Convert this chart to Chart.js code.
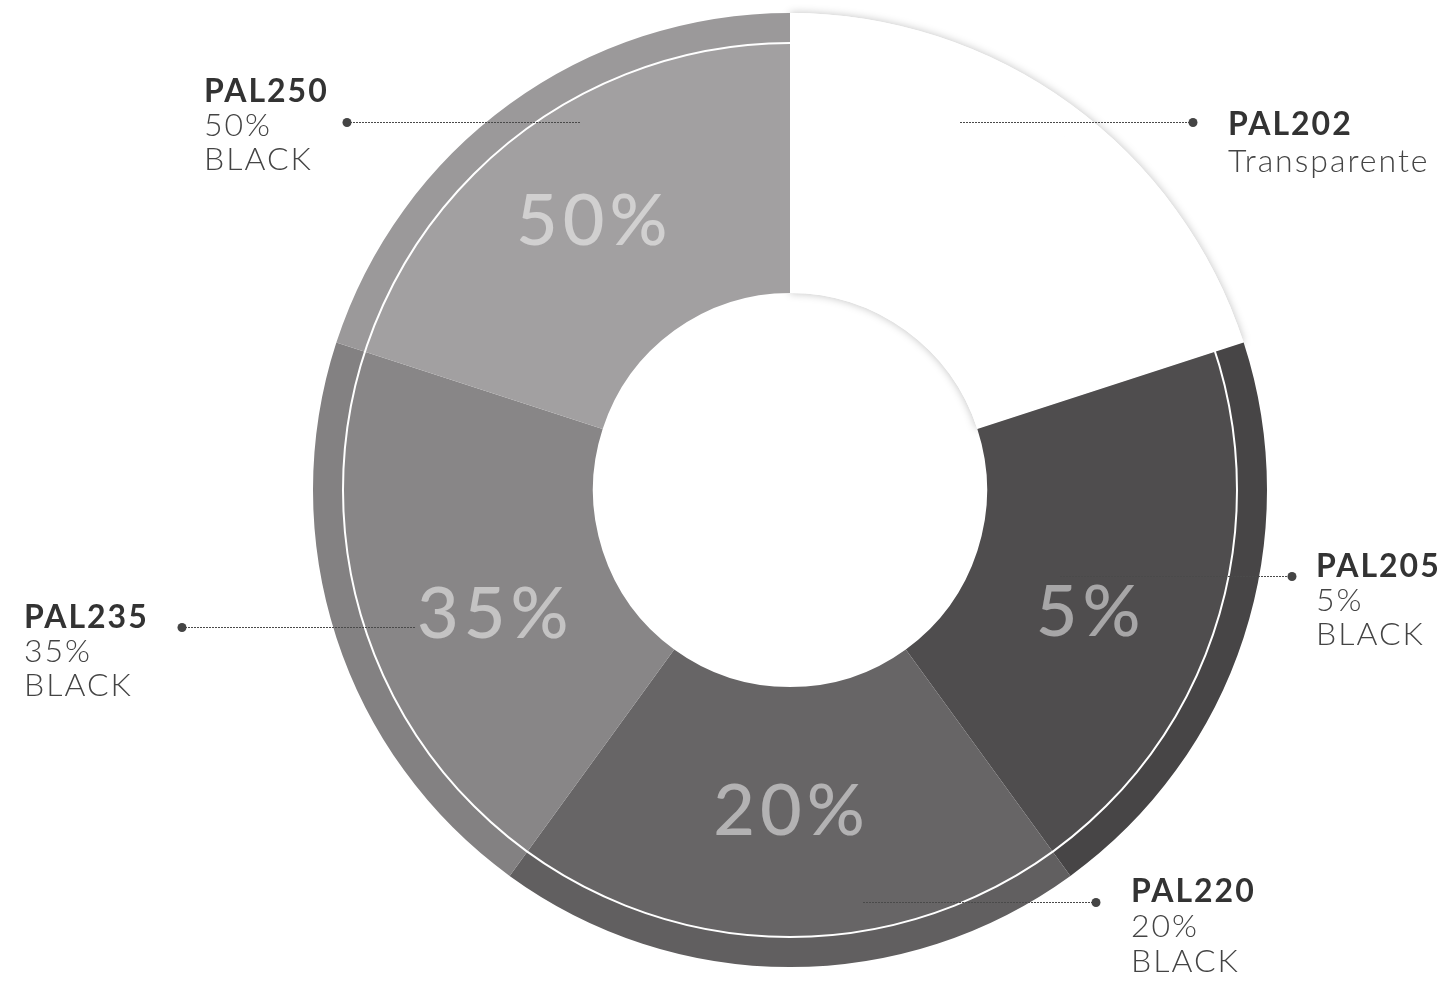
<!DOCTYPE html>
<html>
<head>
<meta charset="utf-8">
<script src="https://cdn.jsdelivr.net/npm/chart.js@4.4.1/dist/chart.umd.min.js"></script>
<style>
  html, body { margin: 0; padding: 0; background: #fff; }
  #contenedor { width: 1452px; height: 986px; }
</style>
</head>
<body>
<div id="contenedor"><canvas id="grafica"></canvas></div>
<script>
// Datos del gráfico (cinco porciones iguales, empezando arriba y en sentido horario)
const codigos = ['PAL202', 'PAL205', 'PAL220', 'PAL235', 'PAL250'];
const descripciones = [['Transparente'], ['5%', 'BLACK'], ['20%', 'BLACK'], ['35%', 'BLACK'], ['50%', 'BLACK']];
const etiquetasPorcentaje = ['', '5%', '20%', '35%', '50%'];
const valores = [1, 1, 1, 1, 1];

// Colores: anillo interior y banda exterior (un poco más oscura)
const coloresInterior = ['#ffffff', '#4f4d4e', '#676566', '#888687', '#a2a0a1'];
const coloresExterior = ['#ffffff', '#474546', '#615f60', '#838182', '#9b999a'];

// Posición de las llamadas (punto, extremo de la línea, texto)
const llamadas = [
  { punto: [1193, 122], linea: 960, texto: [1228, 135], salto: 37 },
  { punto: [1292, 576], linea: 1060, texto: [1316, 577], salto: 34 },
  { punto: [1096, 902], linea: 863, texto: [1131, 902], salto: 35 },
  { punto: [182, 627], linea: 415, texto: [24, 628], salto: 34 },
  { punto: [347, 122], linea: 580, texto: [204, 102], salto: 34 }
];
// Ajuste de los porcentajes respecto al centro angular de cada porción
const ajustePorcentaje = [[0, 0], [-8, 46], [-1, 23], [9, 48], [-9, 16]];

const FUENTE = 'Lato, "Open Sans", sans-serif';

// Sombra suave de la porción blanca
const sombraPlugin = {
  id: 'sombra',
  beforeDatasetsDraw(chart) {
    const ctx = chart.ctx;
    [0, 1].forEach(i => {
      const arco = chart.getDatasetMeta(i).data[0];
      ctx.save();
      ctx.shadowColor = 'rgba(0,0,0,0.25)';
      ctx.shadowBlur = 9;
      arco.draw(ctx);
      ctx.restore();
    });
  }
};

// Línea blanca entre banda exterior e interior, porcentajes y llamadas
const anotacionesPlugin = {
  id: 'anotaciones',
  afterDatasetsDraw(chart) {
    const ctx = chart.ctx;
    const interior = chart.getDatasetMeta(1).data;
    const cx = interior[0].x, cy = interior[0].y;
    const rLinea = interior[0].outerRadius;

    ctx.save();
    ctx.strokeStyle = '#ffffff';
    ctx.lineWidth = 2;
    ctx.beginPath();
    ctx.arc(cx, cy, rLinea, 0, Math.PI * 2);
    ctx.stroke();

    // Porcentajes dentro de las porciones
    ctx.fillStyle = 'rgba(255,255,255,0.5)';
    ctx.font = '500 72px ' + FUENTE;
    ctx.letterSpacing = '5px';
    ctx.textAlign = 'center';
    ctx.textBaseline = 'alphabetic';
    interior.forEach((arco, i) => {
      if (!etiquetasPorcentaje[i]) return;
      const a = (arco.startAngle + arco.endAngle) / 2;
      const r = 322;
      const x = cx + Math.cos(a) * r + ajustePorcentaje[i][0] + 2.5;
      const y = cy + Math.sin(a) * r + ajustePorcentaje[i][1];
      ctx.fillText(etiquetasPorcentaje[i], x, y);
    });

    // Llamadas con línea punteada
    llamadas.forEach((ll, i) => {
      ctx.strokeStyle = '#4a4a4a';
      ctx.lineWidth = 1;
      ctx.setLineDash([2, 1]);
      ctx.beginPath();
      ctx.moveTo(ll.linea, ll.punto[1] + 0.5);
      ctx.lineTo(ll.punto[0], ll.punto[1] + 0.5);
      ctx.stroke();
      ctx.setLineDash([]);
      ctx.fillStyle = '#444444';
      ctx.beginPath();
      ctx.arc(ll.punto[0], ll.punto[1] + 0.5, 4.5, 0, Math.PI * 2);
      ctx.fill();

      ctx.textAlign = 'left';
      ctx.textBaseline = 'alphabetic';
      ctx.letterSpacing = '2px';
      ctx.fillStyle = '#333333';
      ctx.font = '700 32px ' + FUENTE;
      ctx.fillText(codigos[i], ll.texto[0], ll.texto[1]);
      ctx.fillStyle = '#444444';
      ctx.font = '300 32px ' + FUENTE;
      descripciones[i].forEach((linea, j) => {
        ctx.fillText(linea, ll.texto[0], ll.texto[1] + ll.salto * (j + 1));
      });
    });
    ctx.restore();
  }
};

new Chart(document.getElementById('grafica'), {
  type: 'doughnut',
  data: {
    labels: codigos,
    datasets: [
      { data: valores, backgroundColor: coloresExterior, borderWidth: 0, weight: 30 },
      { data: valores, backgroundColor: coloresInterior, borderWidth: 0, weight: 250 }
    ]
  },
  options: {
    responsive: true,
    maintainAspectRatio: false,
    animation: false,
    cutout: 197,
    layout: { padding: { left: 313, right: 185, top: 13, bottom: 19 } },
    plugins: {
      legend: { display: false },
      tooltip: { enabled: false }
    }
  },
  plugins: [sombraPlugin, anotacionesPlugin]
});
</script>
</body>
</html>
